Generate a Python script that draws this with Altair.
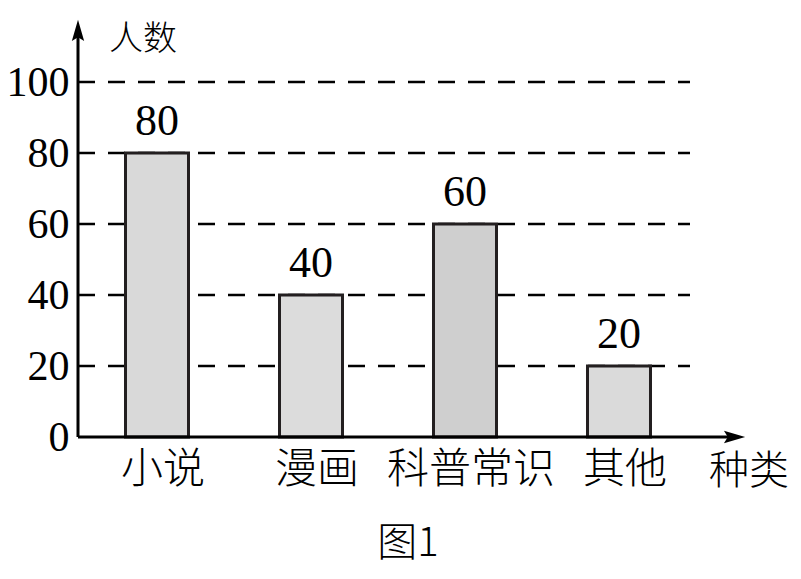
import altair as alt
import pandas as pd

categories = ["小说", "漫画", "科普常识", "其他"]
counts = [80, 40, 60, 20]
fills = ["#d9d9d9", "#dcdcdc", "#cfcfcf", "#dadada"]
y_ticks = [0, 20, 40, 60, 80, 100]
grid_values = [20, 40, 60, 80, 100]
y_title = "人数"
x_title = "种类"
caption = "图1"

NUM_FONT = "Liberation Serif, Times New Roman, DejaVu Serif, serif"
CJK_FONT = "Noto Sans CJK SC"
W, H = 667, 417

df = pd.DataFrame({"类别": categories, "人数": counts, "fill": fills})
df["label"] = df["人数"].astype(str)
grid_df = pd.DataFrame({"v": grid_values})
one = pd.DataFrame({"a": [0]})

yscale = alt.Scale(domain=[0, 117.5], nice=False, zero=True)
xscale = alt.Scale(domain=categories, range=[0, 620], paddingInner=0.59, paddingOuter=0.308)

yaxis_def = alt.Axis(values=y_ticks, title=None, domain=False, ticks=False, tickSize=0,
                     grid=False, labelFont=NUM_FONT, labelFontSize=42, labelColor="black",
                     labelPadding=9, labelBaseline="middle", labelFlush=False, labelOverlap=False)

grid = alt.Chart(grid_df).mark_rule(color="black", strokeWidth=2.5, strokeDash=[17, 13]).encode(
    y=alt.Y("v:Q", scale=yscale, axis=yaxis_def),
    x=alt.value(0), x2=alt.value(612),
)

bars = alt.Chart(df).mark_bar(stroke="#231f20", strokeWidth=3, size=63).encode(
    x=alt.X("类别:N", sort=categories, scale=xscale, axis=None),
    y=alt.Y("人数:Q", scale=yscale, axis=yaxis_def),
    fill=alt.Fill("fill:N", scale=None),
)

vals = alt.Chart(df).mark_text(font=NUM_FONT, fontSize=44, baseline="bottom", dy=-9,
                               color="black").encode(
    x=alt.X("类别:N", sort=categories, scale=xscale, axis=None),
    y=alt.Y("人数:Q", scale=yscale, axis=yaxis_def),
    text=alt.Text("label:N"),
)

cat_labels = alt.Chart(df).mark_text(font=CJK_FONT, fontSize=42, fontWeight=300, baseline="middle",
                                     dx=6, color="black").encode(
    x=alt.X("类别:N", sort=categories, scale=xscale, axis=None),
    y=alt.value(H + 33),
    text="类别:N",
)

yaxis = alt.Chart(one).mark_rule(color="black", strokeWidth=3).encode(
    x=alt.value(0), y=alt.value(H), y2=alt.value(12))
xaxis = alt.Chart(one).mark_rule(color="black", strokeWidth=3).encode(
    x=alt.value(0), x2=alt.value(W - 12), y=alt.value(H))

arrow_path = "M0,-1L0.55,0.9L0,0.55L-0.55,0.9Z"
up_arrow = alt.Chart(one).mark_point(shape=arrow_path, filled=True, color="black", size=500, opacity=1).encode(
    x=alt.value(0), y=alt.value(11))
right_arrow = alt.Chart(one).mark_point(shape=arrow_path, filled=True, color="black", size=500, opacity=1,
                                        angle=90).encode(
    x=alt.value(W - 11), y=alt.value(H))

ytitle = alt.Chart(one).mark_text(font=CJK_FONT, fontSize=34, fontWeight=300, color="black",
                                  baseline="middle").encode(
    x=alt.value(65), y=alt.value(20), text=alt.value(y_title))
xtitle = alt.Chart(one).mark_text(font=CJK_FONT, fontSize=40, fontWeight=300, color="black",
                                  baseline="middle").encode(
    x=alt.value(671), y=alt.value(H + 35), text=alt.value(x_title))
cap = alt.Chart(one).mark_text(font=CJK_FONT, fontSize=40, fontWeight=300, color="black",
                               baseline="middle").encode(
    x=alt.value(330), y=alt.value(H + 107), text=alt.value(caption))

chart = alt.layer(grid, bars, vals, cat_labels, yaxis, xaxis, up_arrow, right_arrow, ytitle, xtitle, cap).properties(
    width=W, height=H,
    autosize=alt.AutoSizeParams(type="none"),
    padding={"left": 70, "top": 12, "right": 48, "bottom": 134},
).configure(background="white", view=alt.ViewConfig(stroke=None))

chart.save("out.html", embed_options={"renderer": "svg", "actions": False})
